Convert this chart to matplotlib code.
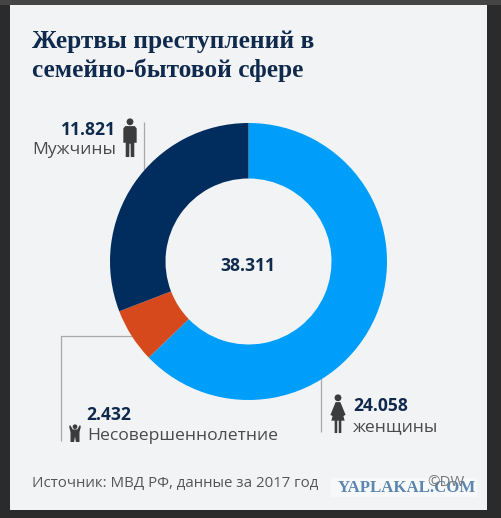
import matplotlib
matplotlib.use("Agg")
import matplotlib.pyplot as plt
from matplotlib.patches import Rectangle, Circle, Polygon

categories = ["женщины", "Несовершеннолетние", "Мужчины"]
values = [24058, 2432, 11821]
value_labels = ["24.058", "2.432", "11.821"]
colors = ["#009EFB", "#D5491C", "#002D5E"]
total_label = "38.311"
title_lines = ["Жертвы преступлений в", "семейно-бытовой сфере"]
source = "Источник: МВД РФ, данные за 2017 год"

W, H = 501, 518
NAVY = "#0F2A4D"
GREY = "#4A4A4A"
LINE = "#A9A9A9"
ICON = "#3C3C3C"
plt.rcParams["font.family"] = ["Open Sans", "DejaVu Sans"]

fig = plt.figure(figsize=(W / 100, H / 100), dpi=100, facecolor="#2B2B2B")
ax = fig.add_axes([0, 0, 1, 1])
Y = lambda py: H - py

ax.add_patch(Rectangle((0, Y(4.5)), W, 4.5, fc="#454545", ec="none", zorder=0))
ax.add_patch(Rectangle((10, Y(510)), 477, 505.5, fc="#F2F3F5", ec="none", zorder=0))

wedges, _ = ax.pie(values, colors=colors, startangle=90, counterclock=False, center=(248.5, Y(261.5)),
                   radius=138.5, wedgeprops=dict(width=55.5, linewidth=0), frame=True)
for w in wedges:
    w.set_zorder(1)
ax.set_xlim(0, W)
ax.set_ylim(0, H)
ax.set_aspect("auto")
ax.axis("off")


def line(xs, ys):
    ax.plot(xs, [Y(v) for v in ys], color=LINE, lw=0.9, zorder=0.5, solid_capstyle="butt")


def person(cx, top, h, woman=False):
    s = h / 42
    pts = lambda items: [(cx + a * s, Y(top + b * s)) for a, b in items]
    ax.add_patch(Circle((cx, Y(top + 4 * s)), 3.6 * s, fc=ICON, ec="none", zorder=4))
    if woman:
        body = [(-2.5, 8.5), (2.5, 8.5), (8, 22), (5.5, 23), (3.5, 15), (7, 28), (3.5, 28), (3.5, 41),
                (0.8, 41), (0.8, 28), (-0.8, 28), (-0.8, 41), (-3.5, 41), (-3.5, 28), (-7, 28), (-3.5, 15),
                (-5.5, 23), (-8, 22)]
    else:
        body = [(-5, 8.5), (5, 8.5), (7, 11), (7, 26), (4.5, 26), (4.5, 41), (0.8, 41), (0.6, 27), (-0.6, 27),
                (-0.8, 41), (-4.5, 41), (-4.5, 26), (-7, 26), (-7, 11)]
    ax.add_patch(Polygon(pts(body), closed=True, fc=ICON, ec="none", zorder=4))


def child(cx, top, h):
    s = h / 20
    ax.add_patch(Circle((cx, Y(top + 3 * s)), 2.6 * s, fc=ICON, ec="none", zorder=4))
    body = [(-5.5, 1), (-2.5, 6), (2.5, 6), (5.5, 1), (6.5, 3), (5, 9), (5, 20), (1, 20), (0, 14), (-1, 20),
            (-5, 20), (-5, 9), (-6.5, 3)]
    ax.add_patch(Polygon([(cx + a * s, Y(top + b * s)) for a, b in body], closed=True, fc=ICON, ec="none", zorder=4))


for i, t in enumerate(title_lines):
    ax.text(32.5, Y(41.5 + i * 28.5), t, family="Liberation Serif", weight="bold", fontsize=18.3,
            color=NAVY, ha="left", va="center")

ax.text(248, Y(266), total_label, fontsize=12.6, weight="bold", color=NAVY, ha="center", va="center")

# Men
ax.text(115.5, Y(130), value_labels[2], fontsize=12.6, weight="bold", color=NAVY, ha="right", va="center")
ax.text(116, Y(150), categories[2], fontsize=12.6, color=GREY, ha="right", va="center")
person(130, 118, 40)
line([144, 144], [122, 172])

# Children
line([135, 61.5, 61.5], [335.5, 335.5, 441])
ax.text(86.5, Y(415), value_labels[1], fontsize=12.6, weight="bold", color=NAVY, ha="left", va="center")
ax.text(87, Y(436), categories[1], fontsize=12.6, color=GREY, ha="left", va="center")
child(75, 424, 18)

# Women
line([321.5, 321.5], [352, 432])
ax.text(353, Y(406), value_labels[0], fontsize=12.6, weight="bold", color=NAVY, ha="left", va="center")
ax.text(353, Y(427), categories[0], fontsize=12.6, color=GREY, ha="left", va="center")
person(338, 394, 40, woman=True)

# Footer
ax.text(32, Y(484), source, fontsize=10.8, color="#555555", ha="left", va="center")
ax.add_patch(Rectangle((331, Y(497)), 146, 19, fc="#F7F8FA", ec="none", zorder=2))
ax.text(338, Y(488), "YAPLAKAL.COM", family="Liberation Serif", weight="bold", fontsize=12.1,
        color="#5B86B0", ha="left", va="center", zorder=3)
ax.text(465, Y(483), "©DW", fontsize=10.8, color="#777777", ha="right", va="center", zorder=4)

fig.savefig("out.png", dpi=100, facecolor=fig.get_facecolor())
